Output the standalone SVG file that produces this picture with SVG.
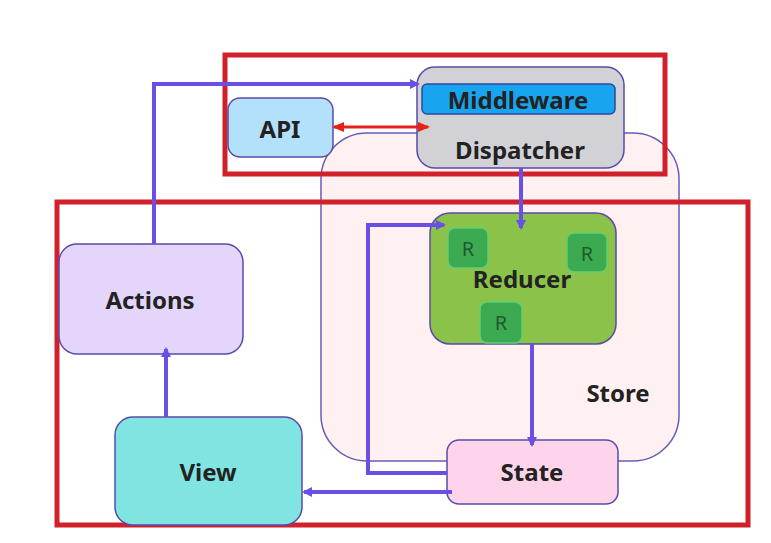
<svg xmlns="http://www.w3.org/2000/svg" width="771" height="543" viewBox="0 0 771 543">
<defs>
<marker id="ah" markerWidth="10" markerHeight="10" refX="8" refY="5" orient="auto" markerUnits="userSpaceOnUse" viewBox="0 0 10 10"><path d="M0,0 L10,5 L0,10 z" fill="#6a4fe6"/></marker>
<marker id="rh" markerWidth="12" markerHeight="10" refX="10" refY="5" orient="auto-start-reverse" markerUnits="userSpaceOnUse" viewBox="0 0 12 10"><path d="M0,0 L12,5 L0,10 z" fill="#e8201a"/></marker>
<style>
.node{stroke:#5a4aa8;stroke-width:1.5}
.lbl{font-family:"Noto Sans","Open Sans",sans-serif;font-weight:700;font-size:24px;fill:#222;text-anchor:middle;dominant-baseline:central}
.r{fill:#3caa50;stroke:#5fd070;stroke-width:1.5}
.rt{font-family:"Noto Sans",sans-serif;font-size:20px;fill:#1f5a2c;text-anchor:middle;dominant-baseline:central}
.c{fill:none;stroke:#6a4fe6;stroke-width:4;marker-end:url(#ah)}
.frame{fill:none;stroke:#d0202a;stroke-width:5}
</style>
</defs>
<rect width="771" height="543" fill="#ffffff"/>
<g id="store">
<rect x="321" y="133" width="358" height="328" rx="46" fill="#fff0f1" stroke="#6a5ab8" stroke-width="1.5"/>
<text class="lbl" x="618" y="392">Store</text>
</g>
<g id="frame-bottom"><rect class="frame" x="57" y="202" width="691" height="323"/></g>
<g id="frame-top"><rect class="frame" x="225" y="55" width="440" height="119"/></g>
<g id="api">
<rect class="node" x="228" y="98" width="105" height="59" rx="12" fill="#b3e0fa"/>
<text class="lbl" x="280" y="128">API</text>
</g>
<g id="dispatcher">
<rect class="node" x="417" y="67" width="207" height="101" rx="18" fill="#d2d2d6"/>
<rect x="422" y="84" width="193" height="30" rx="5" fill="#18a4ee" stroke="#2a4aa0" stroke-width="1.5"/>
<text class="lbl" x="518" y="99">Middleware</text>
<text class="lbl" x="520" y="149">Dispatcher</text>
</g>
<g id="reducer">
<rect class="node" x="430" y="213" width="186" height="131" rx="20" fill="#8bc34a"/>
<rect class="r" x="448" y="228" width="40" height="40" rx="7"/>
<text class="rt" x="468" y="248">R</text>
<rect class="r" x="567" y="233" width="40" height="39" rx="7"/>
<text class="rt" x="587" y="253">R</text>
<rect class="r" x="480" y="302" width="42" height="41" rx="7"/>
<text class="rt" x="501" y="322">R</text>
<text class="lbl" x="522" y="278">Reducer</text>
</g>
<g id="actions">
<rect class="node" x="59" y="244" width="184" height="110" rx="18" fill="#e4d5fa"/>
<text class="lbl" x="150" y="299">Actions</text>
</g>
<g id="view">
<rect class="node" x="115" y="417" width="187" height="108" rx="18" fill="#80e4e0"/>
<text class="lbl" x="208" y="471">View</text>
</g>
<g id="state">
<rect class="node" x="447" y="440" width="171" height="64" rx="12" fill="#fdd4ea"/>
<text class="lbl" x="532" y="471">State</text>
</g>
<g id="connectors">
<path class="c" d="M154,244 V84 H418"/>
<path class="c" d="M521,168 V228"/>
<path class="c" d="M532,344 V445"/>
<path class="c" d="M447,473 H368 V225 H444"/>
<path class="c" d="M452,492 H304"/>
<path class="c" d="M166,417 V349"/>
<path d="M334,127 H428" fill="none" stroke="#e8201a" stroke-width="3" marker-start="url(#rh)" marker-end="url(#rh)"/>
</g>
</svg>
